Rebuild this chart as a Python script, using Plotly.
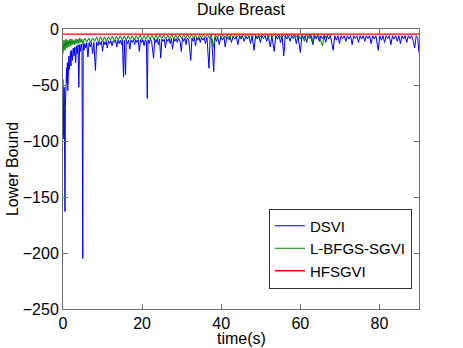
import plotly.graph_objects as go

# ---------------- data ----------------
dsvi_t = [0.0, 0.1, 0.2, 0.3, 0.4, 0.5, 0.6, 0.7, 0.8, 0.9, 1.0, 1.1, 1.2, 1.3, 1.4, 1.5, 1.6, 1.7, 1.8, 1.9,
          2.0, 2.2, 2.4, 2.6, 2.8, 3.0, 3.2, 3.4, 3.6, 3.8, 4.0, 4.2, 4.4, 4.6, 4.8, 5.0, 5.1, 5.3, 5.5, 5.8,
          6.0, 6.3, 6.6, 6.9, 7.2, 7.5, 7.8, 8.2, 8.5, 8.8, 9.1, 9.4, 9.7, 10.0, 10.3, 10.6, 10.9, 11.2, 11.5, 11.8,
          12.1, 12.4, 12.7, 13.0, 13.3, 13.6, 13.9, 14.2, 14.5, 14.8, 15.0, 15.3, 15.5, 15.8, 16.0, 16.3, 16.6, 16.9, 17.2, 17.5,
          17.8, 18.1, 18.4, 18.7, 19.0, 19.3, 19.6, 19.9, 20.2, 20.5, 20.8, 21.1, 21.3, 21.5, 21.8, 22.1, 22.4, 22.9, 23.2, 23.5,
          23.8, 24.1, 24.4, 24.7, 25.0, 25.3, 25.6, 25.9, 26.2, 26.5, 26.8, 27.1, 27.4, 27.7, 28.0, 28.3, 28.6, 28.9, 29.2, 29.6,
          29.9, 30.2, 30.5, 30.8, 31.1, 31.4, 31.8, 32.3, 32.6, 32.9, 33.2, 33.5, 33.8, 34.1, 34.4, 34.7, 35.0, 35.4, 35.7, 36.0,
          36.4, 36.9, 37.2, 37.6, 38.1, 38.4, 38.8, 39.1, 39.5, 39.9, 40.3, 40.7, 41.0, 41.4, 41.8, 42.2, 42.6, 43.0, 43.4, 43.8,
          44.2, 44.6, 45.0, 45.4, 45.8, 46.2, 46.6, 47.0, 47.4, 47.8, 48.3, 48.7, 49.1, 49.5, 49.9, 50.3, 50.7, 51.1, 51.5, 51.9,
          52.4, 52.8, 53.4, 53.8, 54.2, 54.6, 55.0, 55.4, 55.8, 56.2, 56.6, 57.0, 57.4, 57.8, 58.2, 58.6, 59.0, 59.4, 60.0, 60.4,
          60.8, 61.2, 61.6, 62.0, 62.4, 62.8, 63.2, 63.6, 64.0, 64.4, 64.8, 65.2, 65.6, 66.0, 66.4, 66.8, 67.2, 67.6, 68.3, 68.7,
          69.1, 69.5, 69.9, 70.3, 70.7, 71.1, 71.5, 71.9, 72.3, 72.7, 73.1, 73.5, 73.9, 74.3, 74.7, 75.1, 75.5, 75.9, 76.3, 76.7,
          77.1, 77.5, 77.9, 78.3, 78.7, 79.1, 79.7, 80.1, 80.5, 80.9, 81.3, 81.7, 82.1, 82.5, 82.9, 83.3, 83.7, 84.1, 84.5, 84.9,
          85.3, 85.7, 86.1, 86.5, 86.9, 87.3, 87.7, 88.1, 88.5, 88.9, 89.3, 89.7, 90.0]
dsvi_lb = [-45, -60, -98, -52, -100, -163, -70, -40, -56, -35, -48, -30, -55, -27, -40, -24, -36, -22, -30, -20,
           -33, -19, -28, -17, -24, -16, -30, -15, -22, -14, -52, -14, -20, -13.5, -18, -205, -13, -19, -13, -17,
           -12.5, -25, -12, -16, -12, -22, -12, -37, -11.5, -15, -11.5, -14, -11, -20, -11, -14, -11, -17, -10.5, -13,
           -10.5, -15, -10.5, -12, -10, -16, -10, -13, -10, -14, -10, -43, -10, -41, -10, -13, -10, -18, -10, -12,
           -9.5, -14, -9.5, -12, -9.5, -20, -9.5, -12, -9.5, -15, -9.5, -11, -62, -9.5, -13, -9, -11, -26, -9, -12,
           -9, -14, -9, -26, -9, -11, -9, -17, -9, -11, -8.5, -13, -8.5, -18, -8.5, -11, -8.5, -12, -8.5, -11,
           -20, -8, -11, -8, -14, -8, -10, -28, -8, -11, -7.5, -15, -7.5, -10, -7.5, -12, -7.5, -10, -7.5, -13,
           -7.5, -35, -7.5, -10, -38, -7, -11, -7, -14, -7, -10, -7, -16, -7, -9, -6.5, -12, -6.5, -9, -6.5,
           -14, -6.5, -9, -6.5, -11, -6.5, -9, -6, -13, -6, -19, -6, -9, -6, -12, -6, -8.5, -6, -11, -6,
           -16, -6, -20, -6, -9, -6, -12, -6, -24, -6, -9, -6, -11, -6, -8.5, -6, -13, -6, -21, -6,
           -9, -6, -12, -6, -8.5, -6, -14, -6, -9, -6, -11, -6, -8.5, -6, -12, -6, -9, -6, -19, -6,
           -10, -6, -13, -6, -8.5, -6, -11, -6, -9, -6, -14, -6, -8.5, -6, -12, -6, -9, -6, -11, -6,
           -8.5, -6, -13, -6, -9, -6, -19, -6, -10, -6, -12, -6, -8.5, -6, -14, -6, -9, -6, -11, -6,
           -13, -6, -9, -6, -12, -6, -8.5, -6, -10, -17, -6, -8.5, -21]

lbfgs_t = [0.0, 0.25, 0.5, 0.75, 1.0, 1.25, 1.5, 1.75, 2.0, 2.25, 2.5, 2.75, 3.0, 3.25, 3.5, 3.75, 4.0, 4.25, 4.5, 4.75,
           5.0, 5.5, 6.0, 6.5, 7.0, 7.5, 8.0, 8.5, 9.0, 9.5, 10.0, 10.5, 11.0, 11.5, 12.0, 12.5, 13.0, 13.5, 14.0, 14.5,
           15.0, 15.5, 16.0, 16.5, 17.0, 17.5, 18.0, 18.5, 19.0, 19.5, 20.0, 20.5, 21.0, 21.5, 22.0, 22.5, 23.0, 23.5, 24.0, 24.5,
           25.0, 25.5, 26.0, 26.5, 27.0, 27.5, 28.0, 28.5, 29.0, 29.5, 30.0, 30.5, 31.0, 31.5, 32.0, 32.5, 33.0, 33.5, 34.0, 34.5,
           35.0, 35.5, 36.0, 36.5, 37.0, 37.5, 38.0, 38.5, 39.0, 39.5, 40.0, 40.5, 41.0, 41.5, 42.0, 42.5, 43.0, 43.5, 44.0, 44.5,
           45.0, 45.5, 46.0, 46.5, 47.0, 47.5, 48.0, 48.5, 49.0, 49.5, 50.0, 50.5, 51.0, 51.5, 52.0, 52.5, 53.0, 53.5, 54.0, 54.5,
           55.0, 55.5, 56.0, 56.5, 57.0, 57.5, 58.0, 58.5, 59.0, 59.5, 60.0, 60.5, 61.0, 61.5, 62.0, 62.5, 63.0, 63.5, 64.0, 64.5,
           65.0, 65.6, 66.0, 66.5, 67.0, 67.5, 68.0]
lbfgs_lb = [-22, -10, -19, -9, -17, -10, -16, -9, -15, -9, -14, -10, -14, -9, -13, -9, -13, -8, -12, -9,
            -13, -8, -12, -8, -12, -8, -11, -7, -12, -7, -11, -7, -11, -7, -10, -6.5, -11, -6.5, -10, -6,
            -10.5, -6, -10, -6, -9.5, -6, -10, -6, -9, -5.5, -9.5, -6, -9, -5.5, -9, -5.5, -9.5, -5.5, -9, -5.5,
            -8.5, -5.5, -9, -5.5, -8.5, -5, -9, -5.5, -8.5, -5, -8.5, -5, -8, -5, -8.5, -5, -8, -5, -10, -5,
            -8, -5, -7.5, -5, -8, -5, -16.5, -5, -7.5, -4.5, -8, -5, -7.5, -4.5, -10, -5, -7.5, -4.5, -7, -5,
            -7.5, -4.5, -7, -4.5, -7.5, -4.5, -7, -4.5, -7.5, -4.5, -7, -4.5, -7, -4.5, -7.5, -4.5, -7, -4.5, -7, -4.5,
            -7.5, -4.5, -7, -4.5, -7, -4.5, -7.5, -4.5, -7, -4.5, -9, -4.5, -11, -4.5, -8, -4.5, -12, -4.5, -8, -4.5,
            -9, -15, -4.5, -8, -4.5, -7, -5]

hfsgvi_t = [0.0, 90.0]
hfsgvi_lb = [-4.5, -4.5]

x_ticks = [0, 20, 40, 60, 80]
y_ticks = [0, -50, -100, -150, -200, -250]

# ---------------- figure ----------------
FONT = "Liberation Sans, Arial, Helvetica, sans-serif"

fig = go.Figure()
fig.add_trace(go.Scatter(x=dsvi_t, y=dsvi_lb, mode="lines", name="DSVI",
                         line=dict(color="#0000FF", width=1)))
fig.add_trace(go.Scatter(x=lbfgs_t, y=lbfgs_lb, mode="lines", name="L-BFGS-SGVI",
                         line=dict(color="#008000", width=1)))
fig.add_trace(go.Scatter(x=hfsgvi_t, y=hfsgvi_lb, mode="lines", name="HFSGVI",
                         line=dict(color="#FF0000", width=1.3)))

axis_common = dict(
    showgrid=False, zeroline=False, showline=True, mirror="allticks",
    linecolor="#707070", linewidth=1, ticks="inside", ticklen=5,
    tickcolor="#707070", tickwidth=1,
    tickfont=dict(family=FONT, size=16, color="black"),
)

fig.update_layout(
    width=463, height=348,
    margin=dict(l=63, r=44, t=29, b=39),
    paper_bgcolor="white", plot_bgcolor="white",
    font=dict(family=FONT, size=16, color="black"),
    showlegend=True,
    legend=dict(
        x=0.980, y=0.216, xanchor="right", yanchor="middle",
        bgcolor="white", bordercolor="#333333", borderwidth=1,
        font=dict(family=FONT, size=15, color="black"),
        tracegroupgap=0, itemwidth=30,
    ),
    xaxis=dict(range=[0, 90], tickvals=x_ticks, **axis_common),
    yaxis=dict(range=[-250, 0], tickvals=y_ticks, **axis_common),
    annotations=[
        dict(text="Duke Breast", xref="paper", yref="paper", x=0.5, y=1.068,
             xanchor="center", yanchor="middle", showarrow=False,
             font=dict(family=FONT, size=16, color="black")),
        dict(text="time(s)", xref="paper", yref="paper", x=0.5, y=-0.107,
             xanchor="center", yanchor="middle", showarrow=False,
             font=dict(family=FONT, size=16, color="black")),
        dict(text="Lower Bound", xref="paper", yref="paper", x=-0.143, y=0.5,
             xanchor="center", yanchor="middle", showarrow=False, textangle=-90,
             font=dict(family=FONT, size=16, color="black")),
    ],
)

fig.write_html("out.html", config={"displayModeBar": False},
               post_script="document.body.style.margin='0px';")
